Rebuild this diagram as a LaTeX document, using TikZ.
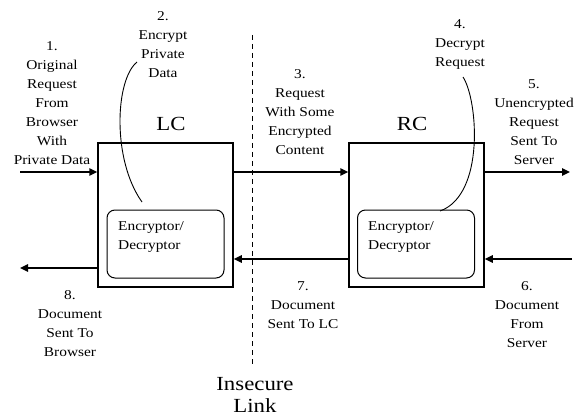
\documentclass[tikz,border=0pt]{standalone}
\usepackage{fontspec}
\setmainfont{Liberation Serif}[FakeStretch=1.14]
\usetikzlibrary{arrows.meta}
\begin{document}
\begin{tikzpicture}[x=1pt,y=-1pt,
  lbl/.style={align=center,inner sep=0pt,font=\fontsize{13.5}{19}\selectfont},
  big/.style={inner sep=0pt,font=\fontsize{20}{22}\selectfont},
  outer/.style={draw,line width=1.5pt,minimum width=135pt,minimum height=144pt,inner sep=0pt},
  inner/.style={draw,line width=1pt,rounded corners=8pt,minimum width=117pt,minimum height=68pt,inner sep=0pt},
  arr/.style={line width=1.5pt,-{Triangle[length=8pt,width=7.5pt]}},
  link/.style={line width=0.9pt},
  intext/.style={align=left,inner sep=0pt,anchor=west,font=\fontsize{13.5}{19}\selectfont}]
\useasboundingbox (0,0) rectangle (574,420);
% boxes
\node[outer] (lc) at (165.5,215) {};
\node[outer] (rc) at (416.5,215) {};
\node[inner] (lci) at (165.5,244) {};
\node[inner] (rci) at (416,244) {};
\node[intext] (lct) at (118,237.5) {Encryptor/\\Decryptor};
\node[intext] (rct) at (368,237.5) {Encryptor/\\Decryptor};
\node[big] (lcl) at (171,124) {LC};
\node[big] (rcl) at (412,124) {RC};
% dashed line
\coordinate (dtop) at (252,35);
\coordinate (dbot) at (252,367);
\draw[line width=0.9pt,dash pattern=on 5pt off 4pt] (dtop) -- (dbot);
\node[big,align=center] (ins) at (255,395) {Insecure\\Link};
% labels
\node[lbl] (l1) at (52,103.5) {1.\\Original\\Request\\From\\Browser\\With\\Private Data};
\node[lbl] (l2) at (163,45) {2.\\Encrypt\\Private\\Data};
\node[lbl] (l3) at (300,112.5) {3.\\Request\\With Some\\Encrypted\\Content};
\node[lbl] (l4) at (460,44) {4.\\Decrypt\\Request};
\node[lbl] (l5) at (534,122.5) {5.\\Unencrypted\\Request\\Sent To\\Server};
\node[lbl] (l6) at (527,314.5) {6.\\Document\\From\\Server};
\node[lbl] (l7) at (303,305) {7.\\Document\\Sent To LC};
\node[lbl] (l8) at (70,323.5) {8.\\Document\\Sent To\\Browser};
% arrows
\coordinate (in1) at (20,172);
\coordinate (out5) at (570,172);
\coordinate (in6) at (572,259);
\coordinate (out8) at (20,268);
\draw[arr] (in1) -- (in1 -| lc.west);
\draw[arr] (lc.east |- in1) -- (rc.west |- in1);
\draw[arr] (rc.east |- out5) -- (out5);
\draw[arr] (in6) -- (in6 -| rc.east);
\draw[arr] (rc.west |- in6) -- (lc.east |- in6);
\draw[arr] (lc.west |- out8) -- (out8);
% curves
\coordinate (c2s) at (137,62);
\coordinate (c2e) at (142,202);
\coordinate (c4s) at (463,77);
\coordinate (c4e) at (440,211);
\draw[link] (c2s) .. controls (115,80) and (112,160) .. (c2e);
\draw[link] (c4s) .. controls (478,100) and (485,195) .. (c4e);
\end{tikzpicture}
\end{document}
